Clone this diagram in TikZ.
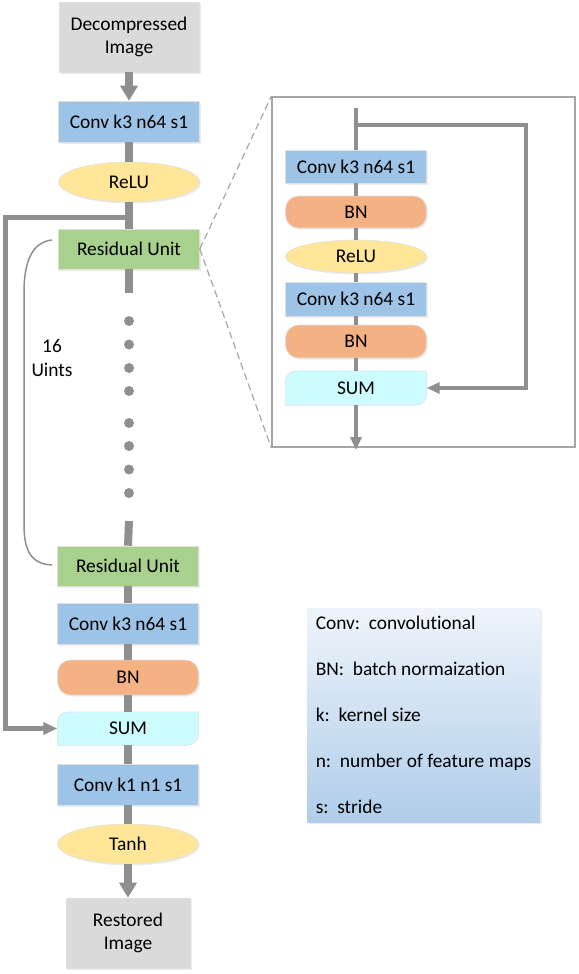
\documentclass[tikz,border=0pt]{standalone}
\usepackage{fontspec}
\setmainfont{Carlito}[Ligatures={NoCommon}]
\usetikzlibrary{shapes.geometric,arrows.meta,shadows,backgrounds}
\definecolor{cgray}{HTML}{DADADA}
\definecolor{cblue}{HTML}{9DC3E6}
\definecolor{cyel}{HTML}{FFE699}
\definecolor{cgreen}{HTML}{A9D18E}
\definecolor{corange}{HTML}{F4B183}
\definecolor{csum}{HTML}{CCFCFF}
\definecolor{cline}{HTML}{8F8F8F}
\definecolor{cframe}{HTML}{A6A6A6}
\definecolor{clegtop}{HTML}{EEF4FB}
\definecolor{clegbot}{HTML}{B0CDE9}
\newcommand{\mysumshape}[1]{%
  \begin{scope}[on background layer]
    \filldraw[fill=csum, draw=black!12, line width=0.6pt]
      (#1.south west) -- ([yshift=-11pt]#1.north west)
      arc[start angle=180, end angle=90, radius=11pt]
      -- (#1.north east) -- ([yshift=11pt]#1.south east)
      arc[start angle=0, end angle=-90, radius=11pt] -- cycle;
  \end{scope}}
\begin{document}
\begin{tikzpicture}[x=1pt,y=1pt,
  font=\fontsize{19.4}{23.5}\selectfont,
  base/.style={inner sep=0pt, align=center, draw=black!12, line width=0.6pt,
    drop shadow={shadow xshift=1.5pt, shadow yshift=-1.5pt, opacity=0.15}},
  imgbox/.style={base, rectangle, fill=cgray},
  convbox/.style={base, rectangle, fill=cblue, minimum width=141pt},
  ellbox/.style={base, ellipse, fill=cyel, minimum width=141pt},
  resbox/.style={base, rectangle, fill=cgreen, minimum width=141pt, minimum height=40pt},
  bnbox/.style={base, rectangle, rounded corners=13pt, fill=corange, minimum width=141pt},
  sumbox/.style={inner sep=0pt, minimum width=141pt},
  mainline/.style={draw=cline, line width=8pt},
  mainarrow/.style={mainline, -{Triangle[width=17pt,length=15pt]}},
  skipline/.style={draw=cline, line width=5pt, -{Triangle[width=12pt,length=14pt]}},
  inline/.style={draw=cline, line width=4.5pt},
  dotnode/.style={circle, fill=cline, inner sep=0pt, minimum size=10pt},
  zoomline/.style={draw=cframe, line width=1.2pt, dash pattern=on 7pt off 4pt}
]
\useasboundingbox (0,0) rectangle (578,-974);

% ---------- main column ----------
\node[imgbox, minimum width=140pt, minimum height=70pt] (dec) at (129,-37) {Decompressed\\Image};
\node[convbox, minimum height=41pt] (conv1) at (129,-121.5) {Conv k3 n64 s1};
\node[ellbox, minimum height=40pt] (relu1) at (129,-182) {ReLU};
\node[resbox] (ru1) at (129,-249) {Residual Unit};
\coordinate (mj) at (129,-217);
\coordinate (stubA) at (129,-293);
\foreach \i/\yy in {1/321,2/344.5,3/368,4/391,5/423,6/446,7/469.5,8/493}
  \node[dotnode] (d\i) at (129,-\yy) {};
\coordinate (stubB) at (129,-521);
\node[resbox] (ru2) at (128,-566) {Residual Unit};
\node[convbox, minimum height=41pt] (conv2) at (128,-623.5) {Conv k3 n64 s1};
\node[bnbox, minimum height=35pt] (bn) at (128,-677.5) {BN};
\node[sumbox, minimum height=33pt] (sum) at (128,-728.5) {SUM};
\mysumshape{sum}
\node[convbox, minimum height=41pt] (conv3) at (128,-784.5) {Conv k1 n1 s1};
\node[ellbox, minimum height=40pt] (tanh) at (128,-844) {Tanh};
\node[imgbox, minimum width=124pt, minimum height=70pt] (rest) at (128,-933) {Restored\\Image};

\draw[mainarrow] (dec.south) -- (conv1.north);
\draw[mainline] (conv1.south) -- (relu1.north);
\draw[mainline] (relu1.south) -- (ru1.north);
\draw[mainline] (ru1.south) -- (stubA);
\draw[mainline] (stubB) -- (ru2.north);
\draw[mainline] (ru2.south) -- (conv2.north);
\draw[mainline] (conv2.south) -- (bn.north);
\draw[mainline] (bn.south) -- (sum.north);
\draw[mainline] (sum.south) -- (conv3.north);
\draw[mainline] (conv3.south) -- (tanh.north);
\draw[mainarrow] (tanh.south) -- (rest.north);
\draw[skipline] (mj) -- ++(-124,0) |- (sum.west);

% bracket and label
\draw[draw=cline, line width=1.5pt] (52,-240) .. controls (32,-242) and (24,-262) .. (24,-292)
  -- (24,-525) .. controls (24,-552) and (32,-564) .. (52,-565);
\node[align=center, inner sep=0pt] (units) at (52,-358) {16\\Uints};

% ---------- inset ----------
\node[draw=cframe, line width=1.5pt, minimum width=303pt, minimum height=350pt, inner sep=0pt] (inset) at (423.5,-272) {};
\draw[zoomline] (ru1.east) -- (inset.north west);
\draw[zoomline] (ru1.east) -- (inset.south west);

\node[convbox, minimum height=33pt] (iconv1) at (356,-166.5) {Conv k3 n64 s1};
\node[bnbox, minimum height=32pt] (ibn1) at (356,-212) {BN};
\node[ellbox, minimum height=33pt] (irelu) at (356,-256.5) {ReLU};
\node[convbox, minimum height=34pt] (iconv2) at (356,-299) {Conv k3 n64 s1};
\node[bnbox, minimum height=33pt] (ibn2) at (356,-341.5) {BN};
\node[sumbox, minimum height=34pt] (isum) at (356,-388) {SUM};
\mysumshape{isum}
\coordinate (itop) at (356,-108);
\coordinate (ijunc) at (356,-125);
\coordinate (iout) at (356,-450);

\draw[inline] (itop) -- (iconv1.north);
\draw[inline] (iconv1.south) -- (ibn1.north);
\draw[inline] (ibn1.south) -- (irelu.north);
\draw[inline] (irelu.south) -- (iconv2.north);
\draw[inline] (iconv2.south) -- (ibn2.north);
\draw[inline] (ibn2.south) -- (isum.north);
\draw[inline, -{Triangle[width=11pt,length=13pt]}] (isum.south) -- (iout);
\draw[inline, -{Triangle[width=11pt,length=13pt]}] (ijunc) -- ++(170,0) |- (isum.east);

% ---------- legend ----------
\node[top color=clegtop, bottom color=clegbot, inner sep=0pt,
  minimum width=233pt, minimum height=214pt, align=left,
  font=\fontsize{19.4}{46}\selectfont,
  drop shadow={shadow xshift=1.5pt, shadow yshift=-1.5pt, opacity=0.15}] (legend) at (423.5,-715)
  {Conv:\ \ convolutional\\BN:\ \ batch normaization\\k:\ \ kernel size\\n:\ \ number of feature maps\\s:\ \ stride};
\end{tikzpicture}
\end{document}
